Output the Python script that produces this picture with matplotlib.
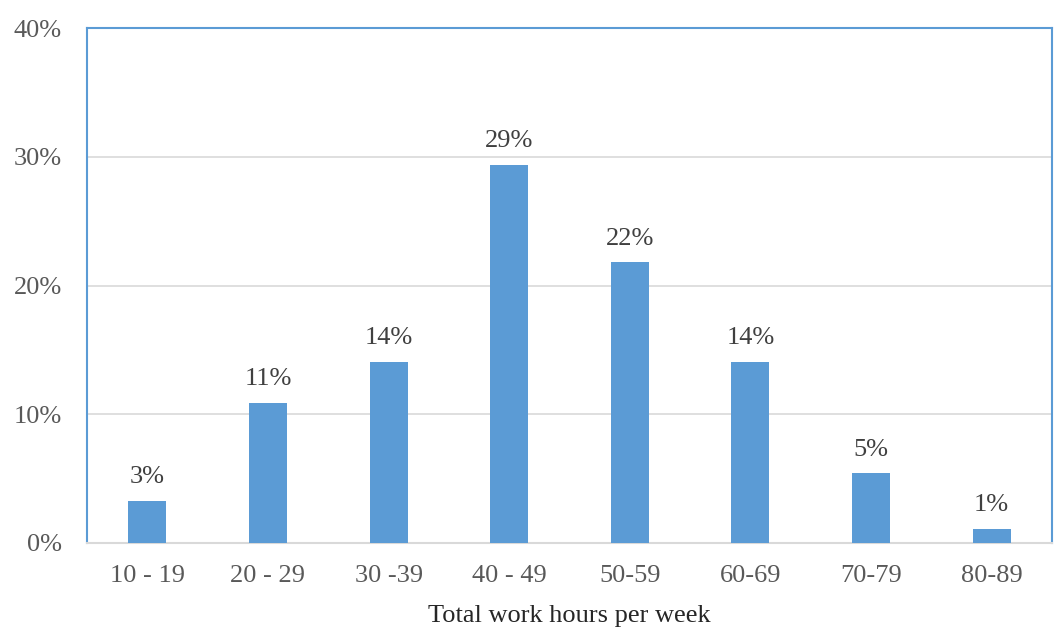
import matplotlib
matplotlib.use("Agg")
import matplotlib.pyplot as plt
from matplotlib.ticker import FuncFormatter

categories = ["10 - 19", "20 - 29", "30 -39", "40 - 49", "50-59", "60-69", "70-79", "80-89"]
values = [3.3, 10.9, 14.1, 29.4, 21.8, 14.1, 5.4, 1.1]
labels = ["3%", "11%", "14%", "29%", "22%", "14%", "5%", "1%"]

plt.rcParams['font.family'] = ['Liberation Serif', 'DejaVu Serif']

fig = plt.figure(figsize=(10.57, 6.4), dpi=100)
ax = fig.add_axes([0.0823, 0.1516, 0.9130, 0.8044])

x = list(range(len(categories)))
bars = ax.bar(x, values, width=0.315, color="#5B9BD5", zorder=3)
for xi, v, lab in zip(x, values, labels):
    ax.text(xi, v + 1.0, lab, ha="center", va="bottom", fontsize=19, color="#404040")

ax.set_xlim(-0.5, len(categories) - 0.5)
ax.set_ylim(0, 40)
ax.set_yticks([0, 10, 20, 30, 40])
ax.yaxis.set_major_formatter(FuncFormatter(lambda v, p: f"{int(v)}%"))
ax.set_xticks(x)
ax.set_xticklabels(categories)
ax.tick_params(axis="both", length=0, labelsize=19, labelcolor="#595959")
ax.tick_params(axis="x", pad=16)
ax.tick_params(axis="y", pad=18)
ax.grid(axis="y", color="#D9D9D9", linewidth=1.2, zorder=0)

for side in ["left", "top", "right"]:
    ax.spines[side].set_color("#5B9BD5")
    ax.spines[side].set_linewidth(1.5)
ax.spines["bottom"].set_color("#D9D9D9")
ax.spines["bottom"].set_linewidth(1.5)

ax.set_xlabel("Total work hours per week", fontsize=19, color="#262626", labelpad=13)

fig.savefig("out.png", dpi=100)
